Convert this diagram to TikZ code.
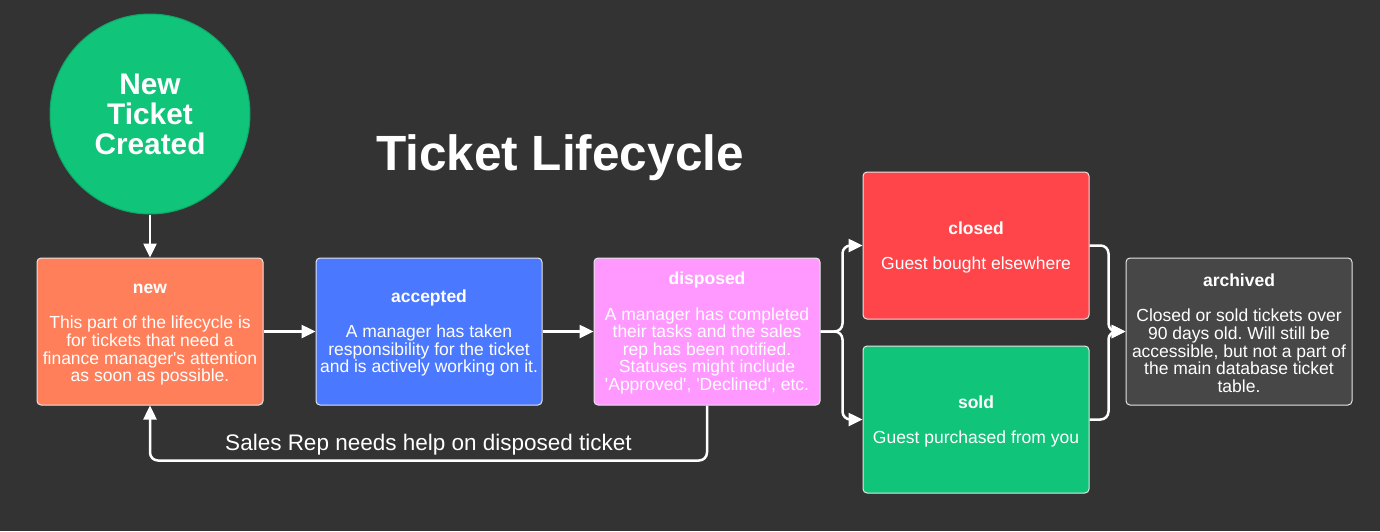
\documentclass[tikz,border=0pt]{standalone}
\usepackage{fontspec}
\setmainfont{Liberation Sans}[Ligatures = TeXOff]
\usetikzlibrary{arrows.meta}
\frenchspacing

\definecolor{bgdark}{HTML}{333333}
\definecolor{startgreen}{HTML}{10C47A}
\definecolor{stagenew}{HTML}{FF7F5A}
\definecolor{stageaccepted}{HTML}{4A78FF}
\definecolor{stagedisposed}{HTML}{FF99FF}
\definecolor{stageclosed}{HTML}{FF454A}
\definecolor{stagesold}{HTML}{10C47A}
\definecolor{stagearchived}{HTML}{474747}
\newcommand{\stagetitle}[1]{\rule{0pt}{16pt}\textbf{#1}\\[17.6pt]}

\begin{document}
\begin{tikzpicture}[x = 1pt, y = -1pt,
    stage/.style = {rectangle, rounded corners = 4pt, draw = white!80!gray,
      line width = 1pt, minimum width = 226pt, minimum height = 147pt,
      align = center, text = white, inner sep = 2pt,
      font = \fontsize{17.5}{17.6}\selectfont},
    flow/.style = {draw = white, line width = 2.5pt, rounded corners = 8pt,
      -{Triangle[length = 14pt, width = 13pt]}}]
  \fill [bgdark] (0,0) rectangle (1380,531);
  \useasboundingbox (0,0) rectangle (1380,531);

  \node [circle, minimum size = 200pt, fill = startgreen,
        draw = startgreen!85!black, line width = 1pt, align = center,
        text = white, font = \fontsize{29.8}{30}\selectfont\bfseries]
        (start) at (150,114) {New\\Ticket\\Created};

  \node [text = white, font = \fontsize{49.5}{59}\selectfont\bfseries]
        (title) at (560,158) {Ticket Lifecycle};

  % stages
  \node [stage, fill = stagenew] (new) at (150,331.5)
        {\stagetitle{new}This part of the lifecycle is\\for tickets that need a\\finance manager's attention\\as soon as possible.};
  \node [stage, fill = stageaccepted] (accepted) at (429,331.5)
        {\stagetitle{accepted}A manager has taken\\responsibility for the ticket\\and is actively working on it.};
  \node [stage, fill = stagedisposed] (disposed) at (707,331.5)
        {\stagetitle{disposed}A manager has completed\\their tasks and the sales\\rep has been notified.\\Statuses might include\\'Approved', 'Declined', etc.};
  \node [stage, fill = stageclosed] (closed) at (976,245.5)
        {\stagetitle{closed}Guest bought elsewhere};
  \node [stage, fill = stagesold] (sold) at (976,419.5)
        {\stagetitle{sold}Guest purchased from you};
  \node [stage, fill = stagearchived] (archived) at (1239,331.5)
        {\stagetitle{archived}Closed or sold tickets over\\90 days old. Will still be\\accessible, but not a part of\\the main database ticket\\table.};

  \draw [flow] (start.south) -- (new.north);
  \draw [flow] (new) -- (accepted);
  \draw [flow] (accepted) -- (disposed);
  \draw [flow] (disposed.east) -- ++(22,0) |- (closed.west);
  \draw [flow] (disposed.east) -- ++(22,0) |- (sold.west);
  \draw [flow] (closed.east) -- ++(19,0) |- (archived.west);
  \draw [flow] (sold.east) -- ++(19,0) |- (archived.west);
  \draw [flow] (disposed.south) -- ++(0,55) -|
        node [pos = 0.25, above = 1pt, text = white,
              font = \fontsize{22.5}{27}\selectfont] (helplabel)
        {Sales Rep needs help on disposed ticket} (new.south);
\end{tikzpicture}
\end{document}
